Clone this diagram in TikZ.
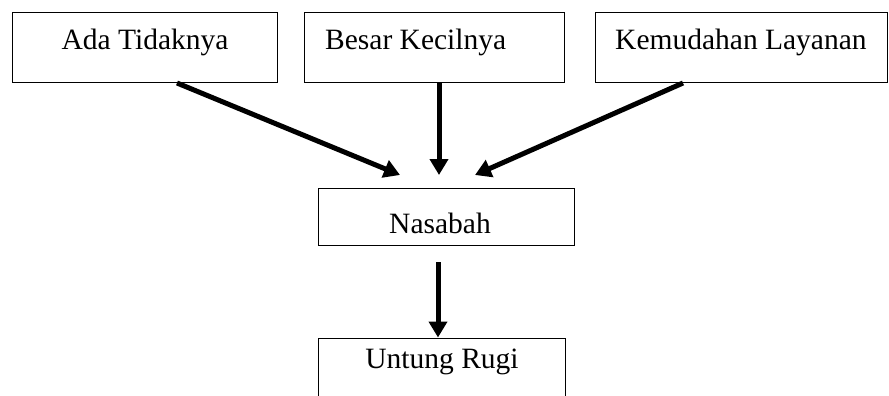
\documentclass[tikz,border=0pt]{standalone}
\usepackage{fontspec}
\setmainfont{Liberation Serif}
\usetikzlibrary{arrows.meta}
\begin{document}
\begin{tikzpicture}[x=1pt,y=-1pt,
  box/.style={draw=black,line width=1pt,rectangle,inner sep=0pt},
  txt/.style={inner sep=0pt,font=\fontsize{29.5}{33}\selectfont},
  arr/.style={line width=5pt,-{Triangle[length=16pt,width=18pt]}}]
\useasboundingbox[fill=white] (0,0) rectangle (889,396);
\clip (0,0) rectangle (889,396);
\node[box,minimum width=265.3pt,minimum height=70pt] (a) at (145.3,47.7) {};
\node[box,minimum width=259.7pt,minimum height=70pt] (b) at (434.2,47.7) {};
\node[box,minimum width=292pt,minimum height=70pt] (c) at (741,47.7) {};
\node[box,minimum width=255.7pt,minimum height=56.7pt] (n) at (446.2,216.7) {};
\node[box,minimum width=247pt,minimum height=100pt] (u) at (441.5,388) {};
\node[txt,anchor=base] (ta) at (145,50) {Ada Tidaknya};
\node[txt,anchor=base west] (tb) at (325,50) {Besar Kecilnya};
\node[txt,anchor=base west] (tc) at (615,50) {Kemudahan Layanan};
\node[txt,anchor=base] (tn) at (440,233) {Nasabah};
\node[txt,anchor=base] (tu) at (442,368) {Untung Rugi};
\coordinate (a1) at (177,83);
\coordinate (a2) at (400,175);
\coordinate (b1) at (439,83);
\coordinate (b2) at (439,175);
\coordinate (c1) at (683,83);
\coordinate (c2) at (475,175);
\coordinate (n1) at (438,262);
\draw[arr] (a1) -- (a2);
\draw[arr] (b1) -- (b2);
\draw[arr] (c1) -- (c2);
\draw[arr] (n1) -- (n1 |- u.north);
\end{tikzpicture}
\end{document}
